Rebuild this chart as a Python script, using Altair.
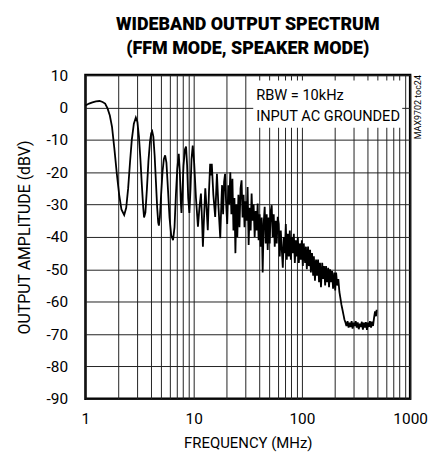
import altair as alt
import pandas as pd

# ---- data ----
FREQ_A = [1.0, 1.08, 1.16, 1.25, 1.35, 1.44, 1.52, 1.6, 1.68, 1.76, 1.85, 1.95, 2.05, 2.15, 2.28,
          2.38, 2.48, 2.58, 2.68, 2.8, 2.92, 3.02, 3.12, 3.22, 3.32, 3.42, 3.48, 3.58, 3.7, 3.82,
          3.95, 4.05, 4.14, 4.24, 4.36, 4.48, 4.6, 4.7, 4.77, 4.87, 5.0, 5.15, 5.3, 5.45, 5.6,
          5.78, 5.98, 6.2, 6.45, 6.65, 6.85, 7.05, 7.28, 7.45, 7.6, 7.71, 7.85, 8.05, 8.3, 8.5,
          8.7, 8.9, 9.13, 9.35, 9.55, 9.8]
DB_A = [0.6, 1.2, 1.6, 1.9, 2.0, 1.7, 1.2, -0.3, -2.5, -6, -12.7, -20.5, -27, -31.5, -33.2,
        -31, -25, -17, -10, -5, -3.1, -4.5, -9, -16, -24, -31, -34, -32.5, -25, -16.5,
        -10.5, -8, -7.4, -9, -15, -23, -31, -35.5, -36.5, -34, -27, -20, -16, -14.8, -17,
        -25, -34, -39.5, -41, -37, -27, -19, -14.3, -20, -29, -32.6, -27, -18, -13, -12.1,
        -18, -28, -32.6, -25, -16, -11.8]

FREQ_B = [10.1, 10.5, 10.95, 11.3, 11.67, 11.95, 12.17, 12.5, 12.8, 13.15, 13.5, 13.85, 14.2,
          14.45, 14.7, 15.2, 15.8, 16.1, 16.4, 16.9, 17.6, 18.0, 18.3, 18.7, 19.1, 19.5, 19.9]
DB_B = [-17, -28, -36.8, -31, -26.6, -35, -43, -33, -25, -31, -37.9, -26, -17.4,
        -21, -17.4, -27, -33.8, -27, -20.5, -30, -40.4, -30, -24, -33, -23, -20.5, -29]

FREQ_C = [20.4, 20.9, 21.3, 21.8, 22.3, 22.8, 23.3, 23.8, 24.3, 24.8,
          25.3, 25.9, 26.5, 27.1, 27.7, 28.3, 28.9, 29.5, 30.1, 30.8,
          31.5, 32.2, 32.9, 33.6, 34.3, 35.0, 35.8, 36.6, 37.4, 38.2,
          39.0, 39.8, 40.7, 41.6, 42.5, 43.4, 44.3, 45.3, 46.3, 47.3,
          48.3, 49.3, 50.4, 51.5, 52.6, 53.7, 54.9, 56.1, 57.3, 58.5, 59.8]
DB_C = [-36, -24, -30, -20, -33, -22, -38, -28, -45, -30,
        -40, -27, -37, -25, -22.5, -34, -27, -37, -29, -35,
        -24.6, -42.5, -31, -38, -26.6, -35, -30, -40, -32, -38,
        -29.7, -41, -33, -43, -34, -51, -36, -30.7, -42, -33,
        -44, -34, -42, -32, -30.2, -40, -33, -43, -35, -42, -33.8]

FREQ_D = [61.1, 62.4, 63.8, 65.2, 66.6, 68.0, 69.5, 71.0, 72.5, 74.1,
          75.7, 77.3, 79.0, 80.7, 82.4, 84.2, 86.0, 87.9, 89.8, 91.7,
          93.7, 95.7, 97.8, 99.9, 102, 104, 107, 109, 111, 114,
          116, 119, 121, 124, 127, 129, 132, 135, 138, 141,
          144, 147, 150, 154, 157, 160, 164, 167, 171, 175,
          178, 182, 186, 190, 194, 199, 203, 207, 212, 217]
DB_D = [-36, -46, -38, -44, -49.5, -40, -45, -36, -47, -39,
        -46, -38, -47, -40, -45, -39, -48, -41, -46, -40,
        -48, -42, -47, -41, -49, -42, -48, -43, -50, -43,
        -49, -44, -51, -45, -52, -46, -53.5, -47, -52, -47,
        -54, -48, -55.5, -48, -53, -49, -55, -49, -54, -49.5,
        -55.5, -50, -54, -50.5, -56, -51, -56.5, -51, -55, -53]

FREQ_E = [222, 227, 232, 237, 242, 247, 253,
          258, 264, 270, 276, 282, 288, 294, 301, 307, 314,
          321, 328, 335, 343, 350, 358, 366, 374, 382, 390,
          399, 407, 416, 425, 435, 444, 454, 464, 474, 484, 490]
DB_E = [-57, -59, -61, -62.5, -64, -65.5, -66.5,
        -67.5, -66, -68, -66.5, -67.8, -66, -68.3, -66.5, -67.5, -66,
        -68, -66.4, -68.5, -66.8, -67.8, -66.2, -68.6, -66.5, -68, -66.3,
        -68.7, -66.5, -67.8, -66, -68, -66.2, -67.5, -65, -63, -64.5, -62.5]

X_GRID = [1, 2, 3, 4, 5, 6, 7, 8, 9, 10, 20, 30, 40, 50, 60, 70, 80, 90,
          100, 200, 300, 400, 500, 600, 700, 800, 900, 1000]
X_LABELS = [1, 10, 100, 1000]
Y_TICKS = [-90, -80, -70, -60, -50, -40, -30, -20, -10, 0, 10]

TITLE_LINES = ["WIDEBAND OUTPUT SPECTRUM", "(FFM MODE, SPEAKER MODE)"]
NOTE_LINES = ["RBW = 10kHz", "INPUT AC GROUNDED"]
NOTE_F = [37.8, 37.8]
NOTE_DB = [2.2, -4.1]
BOX_F = [35.5, 845]
BOX_DB = [-6.3, 8.3]
SIDE_TEXT = "MAX9702 toc24"
SIDE_F = 1185
SIDE_DB = 10

FONT = "Roboto, Liberation Sans, sans-serif"

freq = FREQ_A + FREQ_B + FREQ_C + FREQ_D + FREQ_E
level = DB_A + DB_B + DB_C + DB_D + DB_E
df = pd.DataFrame({"f": freq, "db": level, "i": list(range(len(freq)))})

xscale = alt.Scale(type="log", domain=[1, 1000])
yscale = alt.Scale(domain=[-90, 10])

label_list = ",".join(str(v) for v in X_LABELS)
xaxis = alt.Axis(values=X_GRID, labelExpr=f"indexof([{label_list}], datum.value) >= 0 ? '' + datum.value : ''",
                 labelOverlap=False, labelFlush=False, labelPadding=13, titlePadding=9,
                 titleFontSize=15)
yaxis = alt.Axis(values=Y_TICKS, labelExpr="datum.value < 0 ? '-' + abs(datum.value) : '' + datum.value",
                 labelPadding=18, titlePadding=14, titleFontSize=16)

ENC_X = dict(scale=xscale, axis=xaxis, title="FREQUENCY (MHz)")
ENC_Y = dict(scale=yscale, axis=yaxis, title="OUTPUT AMPLITUDE (dBV)")

box = alt.Chart(pd.DataFrame({"x": [BOX_F[0]], "x2": [BOX_F[1]], "y": [BOX_DB[0]], "y2": [BOX_DB[1]]})).mark_rect(
    fill="white").encode(
    x=alt.X("x:Q", **ENC_X), x2="x2:Q",
    y=alt.Y("y:Q", **ENC_Y), y2="y2:Q")

line = alt.Chart(df).mark_line(color="black", strokeWidth=1.8).encode(
    x=alt.X("f:Q", **ENC_X),
    y=alt.Y("db:Q", **ENC_Y),
    order="i:Q")

note = alt.Chart(pd.DataFrame({"f": NOTE_F, "db": NOTE_DB, "t": NOTE_LINES})).mark_text(
    align="left", baseline="alphabetic", font=FONT, fontSize=14.7, color="black").encode(
    x=alt.X("f:Q", **ENC_X),
    y=alt.Y("db:Q", **ENC_Y),
    text="t:N")

side = alt.Chart(pd.DataFrame({"f": [SIDE_F], "db": [SIDE_DB], "t": [SIDE_TEXT]})).mark_text(
    align="right", baseline="middle", angle=270, font=FONT, fontSize=9, color="black").encode(
    x=alt.X("f:Q", **ENC_X),
    y=alt.Y("db:Q", **ENC_Y),
    text="t:N")

chart = alt.layer(box, line, note, side).properties(
    width=327, height=326,
    title=alt.TitleParams(text=TITLE_LINES, font=FONT, fontSize=18, fontWeight=900,
                          lineHeight=24, anchor="middle", frame="group", offset=10, color="black"),
    autosize=alt.AutoSizeParams(type="none"),
    padding={"left": 78, "top": 66, "right": 20, "bottom": 52},
).configure_view(stroke="black", strokeWidth=2.5).configure_axis(
    grid=True, gridColor="#222", gridWidth=1, gridOpacity=1, domain=False, ticks=False,
    labelFont=FONT, labelFontSize=15.5, labelColor="black",
    titleFont=FONT, titleFontWeight="normal", titleColor="black")

chart.save("out.html", embed_options={"renderer": "svg", "actions": False})
